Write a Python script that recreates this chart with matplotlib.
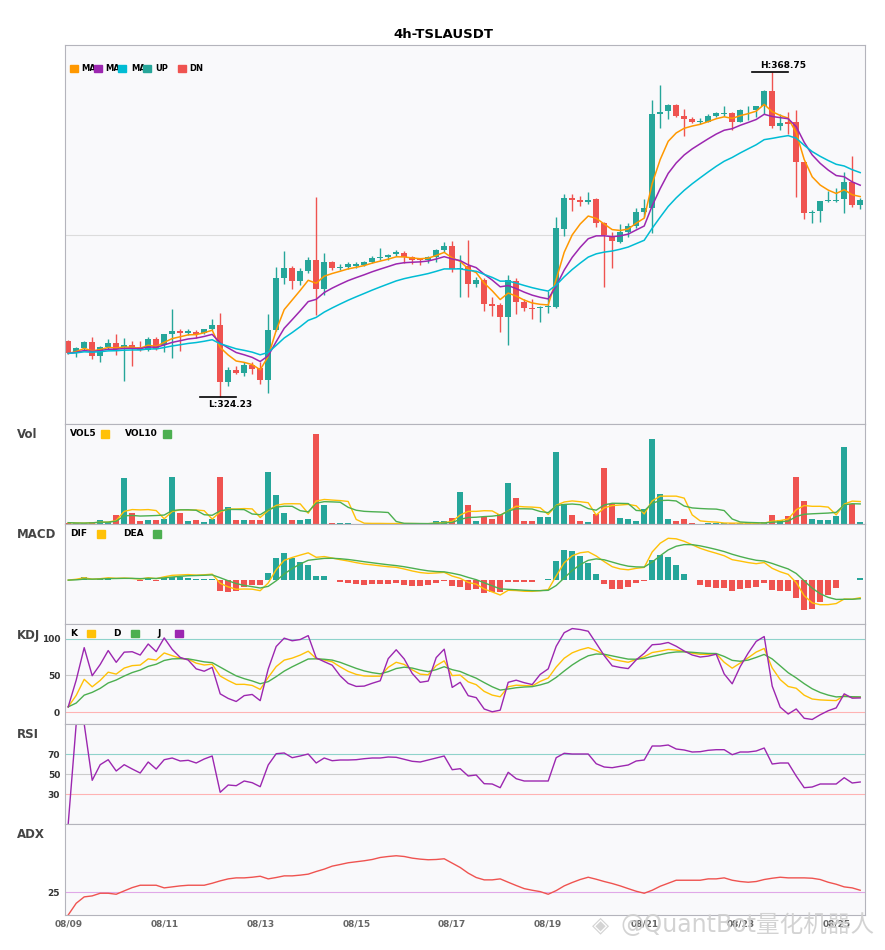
import matplotlib
matplotlib.use("Agg")
import matplotlib.pyplot as plt
from matplotlib.patches import Rectangle
import numpy as np
import pandas as pd

plt.rcParams['font.family'] = ['DejaVu Sans', 'Noto Sans CJK SC']

# 4h candles
opens = [331.89, 330.30, 330.94, 331.76, 329.89, 331.07, 331.62, 331.07, 331.35, 331.07,
         330.66, 332.17, 331.35, 332.85, 333.26, 332.99, 333.13, 332.99, 333.54, 334.08,
         326.28, 327.93, 327.51, 328.61, 328.20, 326.56, 333.40, 340.52, 341.89, 340.15,
         341.47, 342.98, 339.01, 342.71, 341.89, 342.07, 342.16, 342.30, 342.71, 343.25,
         343.39, 343.80, 343.94, 343.39, 343.12, 342.98, 343.39, 344.35, 344.90, 341.75,
         342.16, 339.70, 340.24, 336.96, 336.82, 335.18, 340.11, 337.23, 336.41, 336.41,
         336.55, 336.55, 347.22, 351.47, 351.19, 350.92, 351.37, 348.09, 346.17, 345.53,
         346.81, 347.63, 349.64, 350.10, 362.96, 363.42, 364.24, 362.69, 362.32, 361.96,
         361.96, 362.78, 363.05, 363.14, 361.96, 363.51, 363.51, 364.15, 366.15, 361.32,
         361.87, 361.87, 356.39, 349.46, 349.73, 351.10, 351.10, 351.37, 353.65, 350.55]
highs = [332.03, 331.03, 331.89, 332.40, 331.21, 332.17, 332.85, 332.30, 331.89, 331.89,
         332.44, 332.44, 332.85, 336.27, 333.54, 333.54, 333.40, 333.54, 334.91, 335.73,
         328.34, 328.47, 329.02, 329.02, 329.02, 335.59, 341.98, 344.21, 342.16, 341.89,
         343.39, 351.60, 343.94, 342.84, 342.43, 342.71, 342.71, 342.80, 343.53, 344.62,
         343.80, 344.35, 344.21, 343.53, 343.25, 343.53, 344.44, 345.44, 345.58, 343.66,
         345.72, 340.65, 340.52, 337.92, 337.09, 340.93, 340.52, 337.64, 337.64, 336.68,
         338.74, 348.86, 352.01, 352.10, 351.74, 352.29, 351.47, 348.18, 346.81, 347.91,
         348.00, 350.10, 351.37, 364.88, 366.98, 364.42, 364.33, 363.69, 362.60, 362.51,
         363.05, 363.33, 364.06, 363.23, 363.69, 364.06, 364.15, 366.34, 368.75, 363.05,
         363.23, 363.51, 356.39, 349.82, 351.10, 352.38, 352.83, 355.02, 357.21, 351.47]
lows = [330.07, 329.66, 330.66, 329.48, 329.02, 330.75, 329.98, 326.47, 328.47, 330.53,
        330.48, 330.66, 330.39, 329.57, 330.53, 332.72, 332.30, 332.85, 333.40, 324.23,
        325.74, 327.38, 327.10, 327.38, 326.01, 324.78, 333.31, 339.70, 339.01, 339.56,
        341.20, 335.45, 338.19, 341.61, 341.61, 341.75, 341.89, 342.20, 342.57, 342.98,
        342.98, 343.53, 342.57, 342.43, 342.30, 342.57, 342.71, 344.07, 341.34, 337.92,
        337.92, 339.28, 336.00, 335.32, 333.13, 331.35, 335.59, 336.00, 334.91, 334.49,
        335.73, 336.46, 346.26, 349.73, 350.37, 350.64, 347.54, 339.33, 341.88, 345.35,
        346.17, 347.36, 348.91, 346.72, 361.14, 362.32, 362.60, 360.04, 361.78, 361.59,
        361.87, 362.60, 362.78, 360.77, 361.87, 362.23, 362.60, 363.05, 361.05, 360.77,
        360.32, 351.65, 348.64, 348.09, 348.18, 350.92, 350.92, 349.46, 350.28, 350.00]
closes = [330.21, 330.94, 331.76, 329.89, 331.07, 331.62, 330.80, 331.35, 330.94, 330.66,
          332.17, 330.80, 332.85, 333.26, 332.99, 333.26, 332.85, 333.54, 334.08, 326.28,
          327.93, 327.51, 328.61, 328.06, 326.56, 333.40, 340.52, 341.89, 340.15, 341.47,
          342.98, 339.01, 342.71, 341.89, 342.07, 342.43, 342.43, 342.71, 343.25, 343.39,
          343.66, 344.07, 343.39, 342.98, 342.98, 343.39, 344.35, 344.90, 341.75, 341.89,
          339.70, 340.24, 336.96, 336.68, 335.18, 340.24, 337.23, 336.41, 336.32, 336.55,
          336.68, 347.36, 351.47, 351.19, 350.92, 351.19, 348.09, 346.36, 345.63, 346.81,
          347.63, 349.64, 350.10, 362.96, 363.33, 364.24, 362.69, 362.32, 361.96, 362.05,
          362.69, 363.14, 363.14, 361.96, 363.51, 363.60, 364.06, 366.15, 361.32, 361.78,
          361.68, 356.39, 349.46, 349.64, 351.01, 351.19, 351.19, 353.65, 350.55, 351.19]
volumes = [4, 2, 2, 6, 13, 6, 26, 139, 33, 8,
           11, 11, 16, 142, 34, 8, 11, 5, 16, 142,
           52, 11, 11, 11, 13, 157, 88, 34, 13, 11,
           16, 271, 58, 4, 3, 3, 1, 1, 1, 3,
           1, 1, 1, 1, 1, 1, 10, 10, 17, 97,
           56, 10, 20, 14, 31, 124, 79, 10, 10, 22,
           22, 217, 60, 26, 10, 7, 31, 169, 60, 19,
           16, 10, 46, 256, 91, 16, 10, 16, 4, 1,
           4, 4, 2, 2, 2, 2, 3, 6, 28, 13,
           25, 142, 70, 16, 13, 13, 25, 232, 61, 7]
rsi_vals = [0, 100, 100, 43.7, 59.3, 64.3, 53, 59.3, 55, 51,
            62, 55, 64.3, 66, 63, 63.7, 61, 65, 68, 31.7,
            39, 38.3, 43, 41.3, 37.3, 59, 70.3, 71, 66.3, 68,
            70, 61, 66, 63.3, 64, 64, 64.3, 65.3, 66, 66,
            67, 66.7, 64.7, 62.7, 62, 64, 66, 68, 54.3, 55.3,
            48, 49, 40.3, 40, 36.3, 51.7, 45.3, 43, 43, 43,
            43, 66.3, 70.7, 70, 70, 70, 60.3, 57, 56.3, 57.7,
            59, 63, 64, 78, 78, 79, 75, 74, 72, 72.3,
            73.7, 74.3, 74.3, 69.3, 72, 72, 73, 76, 60, 61,
            61, 48, 36.3, 37, 40, 40, 40, 46.3, 41, 42]
adx_vals = [0, 12.9, 19.9, 21.0, 23.9, 23.9, 22.8, 26.5, 30.1, 32.7,
            32.7, 32.7, 29.8, 30.9, 32.0, 32.7, 32.7, 32.7, 34.9, 37.5,
            39.7, 40.8, 40.8, 41.5, 42.6, 39.7, 41.2, 43.0, 43.0, 43.8,
            44.9, 47.8, 50.4, 53.7, 55.5, 57.4, 58.5, 59.6, 61.0, 63.2,
            64.3, 65.1, 64.3, 62.5, 61.4, 60.7, 61.0, 61.8, 57.0, 52.2,
            46.0, 41.2, 38.6, 38.6, 39.7, 36.0, 32.4, 29.0, 27.2, 25.7,
            22.8, 26.8, 32.0, 35.7, 39.0, 41.5, 39.3, 36.8, 34.6, 32.0,
            29.0, 26.1, 23.9, 27.2, 31.6, 34.9, 38.2, 38.2, 38.2, 38.2,
            39.7, 39.7, 40.8, 38.2, 36.8, 36.0, 36.8, 39.0, 40.4, 41.5,
            40.8, 40.8, 40.8, 40.4, 39.0, 36.0, 33.8, 30.9, 29.8, 27.2]
start = "2025-08-09 00:00"
symbol = "4h-TSLAUSDT"

UP = '#26a69a'
DN = '#ef5350'
YEL = '#ffc107'
GRN = '#4caf50'
PUR = '#9c27b0'

df = pd.DataFrame({'open': opens, 'high': highs, 'low': lows, 'close': closes,
                   'vol': volumes, 'rsi': rsi_vals, 'adx': adx_vals})
df.index = pd.date_range(start, periods=len(df), freq='4h')
c = df['close']
x = np.arange(len(df))

# indicators
ma5 = c.ewm(span=5, adjust=False).mean()
ma10 = c.ewm(span=10, adjust=False).mean()
ma20 = c.ewm(span=20, adjust=False).mean()
vol5 = df['vol'].rolling(5, min_periods=1).mean()
vol10 = df['vol'].rolling(10, min_periods=1).mean()

dif = c.ewm(span=6, adjust=False).mean() - c.ewm(span=13, adjust=False).mean()
dea = dif.ewm(span=5, adjust=False).mean()
hist = 2 * (dif - dea)

llv = df['low'].rolling(9, min_periods=1).min()
hhv = df['high'].rolling(9, min_periods=1).max()
rsv = (c - llv) / (hhv - llv) * 100
k = rsv.ewm(com=2, adjust=False).mean()
d = k.ewm(com=2, adjust=False).mean()
j = 3 * k - 2 * d

W, H = 885, 950
fig = plt.figure(figsize=(W / 100, H / 100), dpi=100)


def panel(top, bottom):
    ax = fig.add_axes([65 / W, 1 - bottom / H, 800 / W, (bottom - top) / H])
    ax.set_facecolor('#f9f9fb')
    for s in ax.spines.values():
        s.set_color('#b4b4bc')
        s.set_linewidth(0.8)
    ax.set_xlim(-0.4, len(df) - 0.4)
    ax.set_xticks([])
    ax.tick_params(length=0, labelsize=6.5, colors='#333')
    return ax


def bold_ticks(ax):
    for lab in ax.get_yticklabels() + ax.get_xticklabels():
        lab.set_fontweight('bold')


def ftext(px, py, s, **kw):
    fig.text(px / W, 1 - py / H, s, va='center', **kw)


def fsquare(px, py, color, size=7.5):
    fig.patches.append(Rectangle((px / W, 1 - (py + size / 2) / H), size / W, size / H,
                                 transform=fig.transFigure, color=color, zorder=5))


up = (df['close'] >= df['open']).values
cols = np.where(up, UP, DN)

# main candles
ax = panel(45, 424)
ax.set_yticks([])
ax.vlines(x, df['low'], df['high'], color=cols, lw=1)
body = np.maximum((df['close'] - df['open']).abs(), 0.08)
ax.bar(x, body, bottom=np.minimum(df['open'], df['close']), width=0.72, color=cols, lw=0)
ax.plot(x, ma5, color='#ff9800', lw=1.1)
ax.plot(x, ma10, color=PUR, lw=1.1)
ax.plot(x, ma20, color='#00bcd4', lw=1.1)
lo, hi = df['low'].min(), df['high'].max()
rng = hi - lo
ax.set_ylim(lo - 0.083 * rng, hi + 0.083 * rng)
ax.axhline(sum(ax.get_ylim()) / 2, color='#dcdcdc', lw=0.8, zorder=0)
hi_i, lo_i = int(np.argmax(df['high'])), int(np.argmin(df['low']))
ax.plot([hi_i - 2.5, hi_i + 2], [hi, hi], color='black', lw=1.2)
ax.annotate(f"H:{hi:.2f}", (hi_i - 1.5, hi), xytext=(0, 1.5), textcoords='offset points',
            ha='left', va='bottom', fontsize=6.5, fontweight='bold')
ax.plot([lo_i - 2.5, lo_i + 2], [lo, lo], color='black', lw=1.2)
ax.annotate(f"L:{lo:.2f}", (lo_i - 1.5, lo), xytext=(0, -2.5), textcoords='offset points',
            ha='left', va='top', fontsize=6.5, fontweight='bold')
fig.text(443 / W, 1 - 34 / H, symbol, ha='center', va='center', fontsize=9.5, fontweight='bold')

for lbl, px in [("MA", 81), ("MA", 105), ("MA", 131), ("UP", 155), ("DN", 189)]:
    ftext(px, 68.5, lbl, fontsize=6, fontweight='bold', zorder=1)
for col, px in [('#ff9800', 70), (PUR, 94), ('#00bcd4', 118), (UP, 143), (DN, 178)]:
    fsquare(px, 68.5, col)

# volume
ax = panel(424, 524)
ax.set_yticks([])
ax.bar(x, df['vol'], width=0.72, color=cols, lw=0)
ax.plot(x, vol5, color=YEL, lw=1)
ax.plot(x, vol10, color=GRN, lw=1)
ax.set_ylim(0, df['vol'].max() * 1.11)
ftext(70, 434, "VOL5", fontsize=6.5, fontweight='bold')
fsquare(101, 434, YEL)
ftext(125, 434, "VOL10", fontsize=6.5, fontweight='bold')
fsquare(163, 434, GRN)

# macd
ax = panel(524, 624)
ax.set_yticks([])
ax.bar(x, hist, width=0.72, color=np.where(hist >= 0, UP, DN), lw=0)
ax.plot(x, dif, color=YEL, lw=1)
ax.plot(x, dea, color=GRN, lw=1)
ax.margins(x=0, y=0.2)
ax.set_xlim(-0.4, len(df) - 0.4)
ftext(70, 534, "DIF", fontsize=6.5, fontweight='bold')
fsquare(97, 534, YEL)
ftext(123, 534, "DEA", fontsize=6.5, fontweight='bold')
fsquare(153, 534, GRN)

# kdj
ax = panel(624, 724)
ax.axhline(0, color='#ffb3b3', lw=0.8)
ax.axhline(50, color='#cccccc', lw=0.8)
ax.axhline(100, color='#8fd3cb', lw=0.8)
ax.plot(x, k, color=YEL, lw=1)
ax.plot(x, d, color=GRN, lw=1)
ax.plot(x, j, color=PUR, lw=1)
ax.set_yticks([0, 50, 100])
bold_ticks(ax)
for lbl, px, col, sx in [("K", 70, YEL, 87), ("D", 113, GRN, 131), ("J", 157, PUR, 175)]:
    ftext(px, 633.5, lbl, fontsize=6.5, fontweight='bold')
    fsquare(sx, 633.5, col)

# rsi
ax = panel(724, 824)
ax.axhline(30, color='#ffb3b3', lw=0.8)
ax.axhline(50, color='#cccccc', lw=0.8)
ax.axhline(70, color='#8fd3cb', lw=0.8)
ax.plot(x, df['rsi'], color=PUR, lw=1)
ax.set_ylim(0, 100)
ax.set_yticks([30, 50, 70])
bold_ticks(ax)

# adx
ax = panel(824, 915)
ax.axhline(25, color='#e0a8e8', lw=0.8)
ax.plot(x, df['adx'], color=DN, lw=1)
ax.set_ylim(0, 100)
ax.set_yticks([25])
ticks = [i for i, t in enumerate(df.index) if t.hour == 0 and (t.day - 9) % 2 == 0]
ax.set_xticks(ticks)
ax.set_xticklabels([df.index[i].strftime('%m/%d') for i in ticks])
ax.tick_params(axis='x', colors='#666', pad=3)
bold_ticks(ax)

for name, py in [("Vol", 434), ("MACD", 535), ("KDJ", 635), ("RSI", 735), ("ADX", 835)]:
    ftext(17, py, name, fontsize=8.5, fontweight='bold', color='#444')

# watermark
fig.text(600 / W, 1 - 925 / H, "◈", fontsize=16, color='#d4d4d4', va='center', ha='center')
fig.text(620 / W, 1 - 925 / H, "@QuantBot量化机器人", fontsize=17, color='#cfcfcf',
         va='center', ha='left', alpha=0.9)

fig.savefig('out.png', dpi=100)
